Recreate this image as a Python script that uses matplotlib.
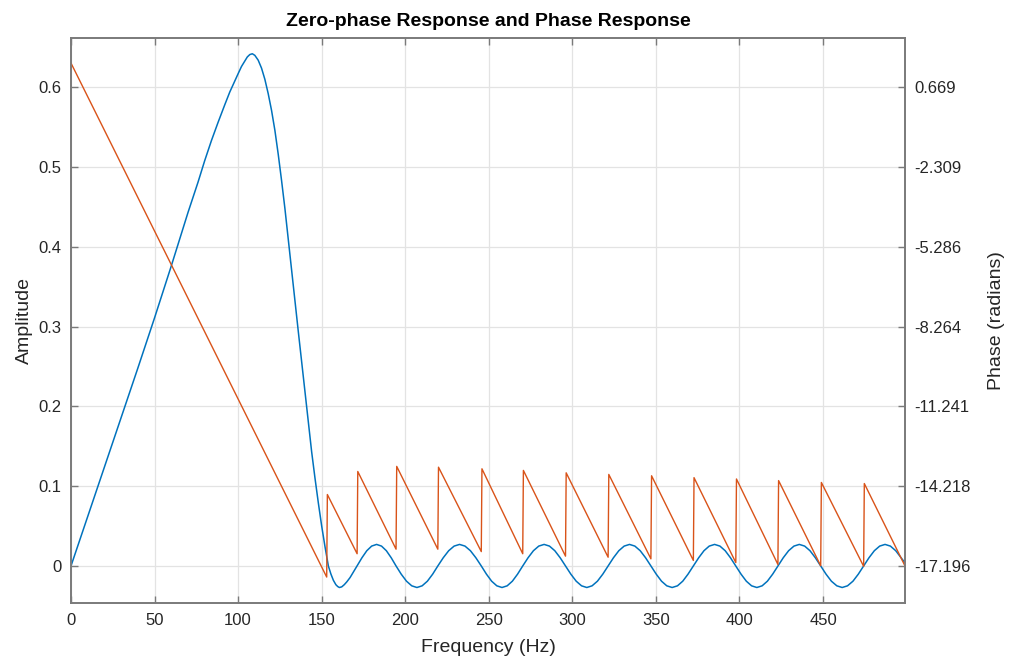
import matplotlib.pyplot as plt

plt.rcParams['font.family'] = ['Liberation Sans', 'DejaVu Sans']

# zero-phase amplitude
freq_amp = [0, 10, 20, 30, 40, 50, 60, 70, 76, 80, 84, 88, 92, 95, 98, 100, 102,
            104, 105.5, 107, 108.5, 110, 112, 114, 116, 118, 120, 122, 124, 126,
            128, 130, 132, 134, 136, 138, 140, 142, 144, 146, 148, 150, 152, 154,
            155.5, 157, 158.5, 159.6, 160.6, 162, 163.5, 165, 167, 169, 171.2,
            174.1, 177.0, 179.9, 182.85, 185.8, 188.7, 191.6, 194.5,
            197.6, 200.75, 203.9, 207.0, 210.1, 213.25, 216.4, 219.5,
            222.75, 226.0, 229.25, 232.5, 235.75, 239.0, 242.25, 245.5,
            248.6, 251.7, 254.8, 257.9, 261.0, 264.1, 267.2, 270.3,
            273.5, 276.7, 279.9, 283.1, 286.3, 289.5, 292.7, 295.9,
            299.1, 302.3, 305.5, 308.65, 311.8, 315.0, 318.2, 321.4,
            324.6, 327.8, 331.0, 334.2, 337.4, 340.6, 343.8, 347.0,
            350.2, 353.35, 356.5, 359.7, 362.9, 366.05, 369.2, 372.4,
            375.6, 378.75, 381.9, 385.1, 388.3, 391.45, 394.6, 397.8,
            400.95, 404.1, 407.25, 410.4, 413.55, 416.7, 419.85, 423.0,
            426.2, 429.4, 432.6, 435.8, 439.0, 442.2, 445.4, 448.6,
            451.8, 455.0, 458.25, 461.45, 464.65, 467.9, 471.1, 474.3,
            477.5, 480.7, 483.9, 487.1, 490.3, 493.5, 496.7, 499]
amplitude = [0, 0.062, 0.124, 0.186, 0.248, 0.311, 0.376, 0.443, 0.481, 0.508,
             0.533, 0.556, 0.578, 0.594, 0.608, 0.617, 0.626, 0.633, 0.638, 0.641,
             0.642, 0.640, 0.634, 0.624, 0.610, 0.592, 0.571, 0.546, 0.516, 0.483,
             0.448, 0.410, 0.371, 0.332, 0.294, 0.256, 0.218, 0.180, 0.143, 0.110,
             0.079, 0.050, 0.024, 0.0,
             -0.010, -0.018, -0.0235, -0.0258, -0.027, -0.0262, -0.0235, -0.020,
             -0.0145, -0.0075, 0.0,
             0.0103, 0.0191, 0.0249, 0.027, 0.0249, 0.0191, 0.0103, 0.0,
             -0.0103, -0.0191, -0.0249, -0.027, -0.0249, -0.0191, -0.0103, 0.0,
             0.0103, 0.0191, 0.0249, 0.027, 0.0249, 0.0191, 0.0103, 0.0,
             -0.0103, -0.0191, -0.0249, -0.027, -0.0249, -0.0191, -0.0103, 0.0,
             0.0103, 0.0191, 0.0249, 0.027, 0.0249, 0.0191, 0.0103, 0.0,
             -0.0103, -0.0191, -0.0249, -0.027, -0.0249, -0.0191, -0.0103, 0.0,
             0.0103, 0.0191, 0.0249, 0.027, 0.0249, 0.0191, 0.0103, 0.0,
             -0.0103, -0.0191, -0.0249, -0.027, -0.0249, -0.0191, -0.0103, 0.0,
             0.0103, 0.0191, 0.0249, 0.027, 0.0249, 0.0191, 0.0103, 0.0,
             -0.0103, -0.0191, -0.0249, -0.027, -0.0249, -0.0191, -0.0103, 0.0,
             0.0103, 0.0191, 0.0249, 0.027, 0.0249, 0.0191, 0.0103, 0.0,
             -0.0103, -0.0191, -0.0249, -0.027, -0.0249, -0.0191, -0.0103, 0.0,
             0.0103, 0.0191, 0.0249, 0.027, 0.0249, 0.0191, 0.0103, 0.004]

# unwrapped phase, sawtooth corners (radians)
freq_phase = [0, 153.0, 153.4, 171.2, 171.6, 194.5, 194.9, 219.5, 219.9,
              245.5, 245.9, 270.3, 270.7, 295.9, 296.3, 321.4, 321.8, 347.0, 347.4,
              372.4, 372.8, 397.8, 398.2, 423.0, 423.4, 448.6, 449.0, 474.3, 474.7,
              499]
phase = [1.571, -17.61, -14.53, -16.74, -13.67, -16.57, -13.48, -16.57, -13.51,
         -16.66, -13.57, -16.74, -13.63, -16.83, -13.72, -16.87, -13.78, -16.93,
         -13.83, -16.99, -13.90, -17.07, -13.95, -17.14, -14.01, -17.19, -14.08,
         -17.21, -14.12, -17.19]

amp_ticks = [0, 0.1, 0.2, 0.3, 0.4, 0.5, 0.6]
amp_labels = ['0', '0.1', '0.2', '0.3', '0.4', '0.5', '0.6']
phase_ticks = [-17.196, -14.2185, -11.241, -8.2635, -5.286, -2.3085, 0.669]
phase_labels = ['-17.196', '-14.218', '-11.241', '-8.264', '-5.286', '-2.309', '0.669']
freq_ticks = [0, 50, 100, 150, 200, 250, 300, 350, 400, 450]

blue = '#0072BD'
orange = '#D95319'
edge = '#7a7a7a'
txt = '#262626'

fig = plt.figure(figsize=(10.1, 6.6), dpi=100)
ax = fig.add_axes([0.0703, 0.0864, 0.8257, 0.8556])
ax2 = ax.twinx()

amp_lim = (-0.0464, 0.6614)
# phase axis is a linear map of the amplitude axis
scale = (phase_ticks[-1] - phase_ticks[0]) / 0.6
ax2.set_ylim(phase_ticks[0] + amp_lim[0] * scale, phase_ticks[0] + amp_lim[1] * scale)

ax.plot(freq_amp, amplitude, color=blue, lw=1.1)
ax2.plot(freq_phase, phase, color=orange, lw=1.0)

ax.set_xlim(0, 499.02)
ax.set_ylim(*amp_lim)
ax.set_xticks(freq_ticks)
ax.set_yticks(amp_ticks)
ax.set_yticklabels(amp_labels)
ax2.set_yticks(phase_ticks)
ax2.set_yticklabels(phase_labels)

ax.grid(True, color='#e3e3e3', lw=0.9)
ax.set_axisbelow(True)

for a in (ax, ax2):
    for s in a.spines.values():
        s.set_color(edge)
        s.set_linewidth(1.2)
ax.tick_params(direction='in', length=5, width=1.0, color=edge, labelcolor=txt,
               labelsize=12, top=True, right=False, pad=7)
ax2.tick_params(direction='in', length=5, width=1.0, color=edge, labelcolor=txt,
                labelsize=12, pad=7)

ax.set_title('Zero-phase Response and Phase Response', fontsize=14,
             fontweight='bold', color='#000000', pad=9)
ax.set_xlabel('Frequency (Hz)', fontsize=14, color=txt, labelpad=8)
ax.set_ylabel('Amplitude', fontsize=14, color=txt, labelpad=4)
ax2.set_ylabel('Phase (radians)', fontsize=14, color=txt, labelpad=12)

fig.savefig('out.png', dpi=100, facecolor='white')
